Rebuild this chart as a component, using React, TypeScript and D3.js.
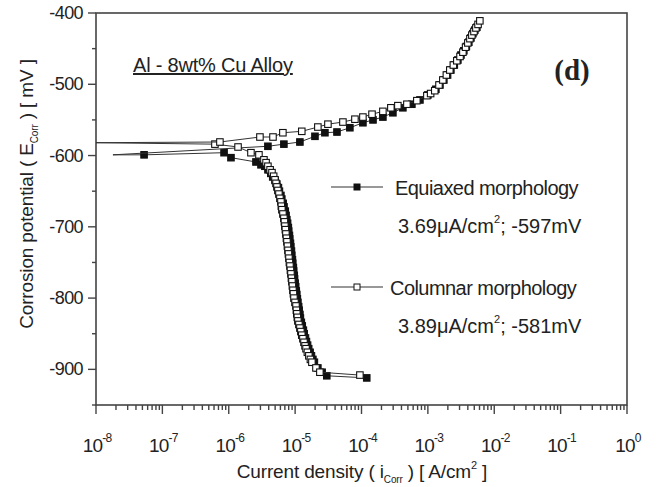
import * as d3 from "d3";
import React, {useEffect, useRef} from "react";

// [current density A/cm2, potential mV]
const equiaxedCathodic = [
    [1.8e-8, -599], [5.3e-8, -599], [8.5e-7, -596], [1.08e-6, -603], [2.57e-6, -609], [3.06e-6, -613],
    [3.5e-6, -615], [3.9e-6, -620], [4.3e-6, -625], [4.6e-6, -630], [5.0e-6, -635], [5.3e-6, -640],
    [5.6e-6, -645], [5.8e-6, -650], [6.1e-6, -656], [6.3e-6, -661], [6.6e-6, -667], [6.8e-6, -672],
    [7.1e-6, -678], [7.3e-6, -684], [7.5e-6, -690], [7.7e-6, -695], [7.9e-6, -701], [8.0e-6, -706],
    [8.2e-6, -712], [8.3e-6, -717], [8.5e-6, -723], [8.6e-6, -728], [8.8e-6, -734], [8.9e-6, -740],
    [9.1e-6, -746], [9.2e-6, -751], [9.4e-6, -757], [9.5e-6, -762], [9.7e-6, -768], [9.8e-6, -773],
    [1.0e-5, -779], [1.02e-5, -784], [1.04e-5, -790], [1.06e-5, -795], [1.08e-5, -801], [1.10e-5, -806],
    [1.13e-5, -812], [1.15e-5, -817], [1.18e-5, -823], [1.20e-5, -828], [1.24e-5, -834], [1.28e-5, -839],
    [1.33e-5, -845], [1.37e-5, -850], [1.43e-5, -856], [1.48e-5, -861], [1.54e-5, -866], [1.60e-5, -871],
    [1.68e-5, -876], [1.76e-5, -881], [1.85e-5, -886], [1.95e-5, -890], [2.2e-5, -898], [2.55e-5, -904],
    [3.0e-5, -909], [1.2e-4, -912]
];

const equiaxedAnodic = [
    [1.8e-8, -599], [3.89e-6, -587], [6.77e-6, -584], [1.18e-5, -581], [1.99e-5, -573], [2.81e-5, -568],
    [4.27e-5, -567], [6.68e-5, -561], [1.05e-4, -554], [1.49e-4, -550], [2.10e-4, -546], [2.97e-4, -540],
    [4.20e-4, -533], [5.74e-4, -528], [7.59e-4, -522], [1.0e-3, -515], [1.32e-3, -507], [1.52e-3, -501],
    [1.74e-3, -494], [1.98e-3, -487], [2.22e-3, -480], [2.5e-3, -473], [2.83e-3, -466], [3.15e-3, -459],
    [3.48e-3, -453], [3.8e-3, -447], [4.14e-3, -441], [4.45e-3, -435], [4.76e-3, -429], [5.1e-3, -424],
    [5.47e-3, -420]
];

const columnarCathodic = [
    [1.0e-8, -582], [6.19e-7, -584], [1.38e-6, -588], [2.16e-6, -596], [2.85e-6, -599], [3.39e-6, -606],
    [3.65e-6, -610], [3.89e-6, -615], [4.2e-6, -620], [4.48e-6, -624], [4.75e-6, -629], [4.97e-6, -634],
    [5.15e-6, -639], [5.32e-6, -644], [5.5e-6, -649], [5.70e-6, -654], [5.9e-6, -660], [6.11e-6, -665],
    [6.2e-6, -671], [6.32e-6, -676], [6.55e-6, -682], [6.77e-6, -688], [6.9e-6, -693], [7.01e-6, -699],
    [7.13e-6, -704], [7.26e-6, -710], [7.4e-6, -716], [7.53e-6, -721], [7.66e-6, -727], [7.80e-6, -733],
    [7.93e-6, -738], [8.07e-6, -744], [8.2e-6, -750], [8.36e-6, -755], [8.5e-6, -761], [8.65e-6, -766],
    [8.8e-6, -772], [8.95e-6, -777], [9.1e-6, -783], [9.27e-6, -789], [9.43e-6, -794], [9.60e-6, -800],
    [9.95e-6, -806], [1.03e-5, -811], [1.045e-5, -817], [1.06e-5, -822], [1.08e-5, -827], [1.10e-5, -832],
    [1.14e-5, -837], [1.18e-5, -842], [1.22e-5, -847], [1.26e-5, -852], [1.31e-5, -857], [1.36e-5, -862],
    [1.41e-5, -867], [1.46e-5, -871], [1.53e-5, -876], [1.61e-5, -881], [1.7e-5, -886], [1.79e-5, -890],
    [2.06e-5, -898], [2.36e-5, -904], [9.46e-5, -908]
];

const columnarAnodic = [
    [1.0e-8, -582], [7.36e-7, -581], [2.95e-6, -574], [4.64e-6, -574], [6.54e-6, -568], [1.26e-5, -566],
    [2.20e-5, -560], [3.12e-5, -556], [5.25e-5, -553], [7.96e-5, -549], [1.05e-4, -546], [1.44e-4, -542],
    [2.10e-4, -538], [2.77e-4, -533], [3.53e-4, -530], [4.83e-4, -528], [6.82e-4, -523], [9.66e-4, -516],
    [1.1e-3, -513], [1.27e-3, -509], [1.47e-3, -501], [1.68e-3, -494], [1.9e-3, -487], [2.14e-3, -480],
    [2.42e-3, -473], [2.73e-3, -467], [3.05e-3, -461], [3.37e-3, -455], [3.7e-3, -448], [4.00e-3, -442],
    [4.3e-3, -436], [4.60e-3, -431], [4.95e-3, -426], [5.29e-3, -421], [5.7e-3, -416], [6.07e-3, -411]
];

const yTicks = [-900, -800, -700, -600, -500, -400];
const yMinorTicks = [-950, -850, -750, -650, -550, -450];
const xTickExponents = [-8, -7, -6, -5, -4, -3, -2, -1, 0];

const legendNames = ["Equiaxed morphology", "Columnar morphology"];
const legendCurrents = ["3.69", "3.89"];
const legendPotentials = [-597, -581];

const width = 657;
const height = 487;
const left = 96, right = 627, top = 13, bottom = 405;
const font = "'Liberation Sans', Arial, sans-serif";

const App = () => {
    const ref = useRef(null);

    useEffect(() => {
        const x = d3.scaleLog().domain([1e-8, 1]).range([left, right]);
        const y = d3.scaleLinear().domain([-950, -400]).range([bottom, top]);

        const svg = d3.select(ref.current);
        svg.selectAll("*").remove();

        svg.append("defs").append("clipPath").attr("id", "plot")
            .append("rect").attr("x", left).attr("y", top).attr("width", right - left).attr("height", bottom - top);

        // frame
        svg.append("rect")
            .attr("x", left).attr("y", top).attr("width", right - left).attr("height", bottom - top)
            .attr("fill", "none").attr("stroke", "#444").attr("stroke-width", 1.6);

        // y ticks
        const yAxis = svg.append("g").attr("stroke", "#444").attr("stroke-width", 1.4);
        yTicks.forEach(t => {
            yAxis.append("line").attr("x1", left - 8).attr("x2", left).attr("y1", y(t)).attr("y2", y(t));
        });
        yMinorTicks.forEach(t => {
            yAxis.append("line").attr("x1", left - 4).attr("x2", left).attr("y1", y(t)).attr("y2", y(t));
        });
        svg.append("g")
            .selectAll("text")
            .data(yTicks)
            .join("text")
            .attr("x", left - 13)
            .attr("y", d => y(d) + 6)
            .attr("text-anchor", "end")
            .attr("font-family", font)
            .attr("font-size", 18)
            .attr("letter-spacing", -0.6)
            .attr("fill", "#222")
            .text(d => d);

        // x ticks, decades and minor ones
        const xAxis = svg.append("g").attr("stroke", "#444").attr("stroke-width", 1.4);
        xTickExponents.forEach(e => {
            xAxis.append("line").attr("x1", x(10 ** e)).attr("x2", x(10 ** e)).attr("y1", bottom).attr("y2", bottom + 9);
            if (e < 0) {
                d3.range(2, 10).forEach(m => {
                    const v = m * 10 ** e;
                    xAxis.append("line").attr("x1", x(v)).attr("x2", x(v)).attr("y1", bottom).attr("y2", bottom + 5);
                });
            }
        });
        const xLabels = svg.append("g")
            .selectAll("text")
            .data(xTickExponents)
            .join("text")
            .attr("x", d => x(10 ** d) + 1)
            .attr("y", 452)
            .attr("text-anchor", "middle")
            .attr("font-family", font)
            .attr("font-size", 19)
            .attr("letter-spacing", -0.8)
            .attr("fill", "#222");
        xLabels.append("tspan").text("10");
        xLabels.append("tspan").attr("dy", -10).attr("font-size", 12).text(d => d === 0 ? "0" : "-" + Math.abs(d));

        // axis titles
        const yTitle = svg.append("text")
            .attr("transform", "translate(33,194) rotate(-90)")
            .attr("text-anchor", "middle")
            .attr("font-family", font)
            .attr("font-size", 19)
            .attr("letter-spacing", -0.15)
            .attr("fill", "#222");
        yTitle.append("tspan").text("Corrosion potential ( E");
        yTitle.append("tspan").attr("dy", 5).attr("font-size", 10).text("Corr");
        yTitle.append("tspan").attr("dy", -5).text(" )  [ mV ]");

        const xTitle = svg.append("text")
            .attr("x", 362)
            .attr("y", 478)
            .attr("text-anchor", "middle")
            .attr("font-family", font)
            .attr("font-size", 19)
            .attr("letter-spacing", -0.15)
            .attr("fill", "#222");
        xTitle.append("tspan").text("Current density ( i");
        xTitle.append("tspan").attr("dy", 5).attr("font-size", 10).text("Corr");
        xTitle.append("tspan").attr("dy", -5).text(" )  [ A/cm");
        xTitle.append("tspan").attr("dy", -9).attr("font-size", 11).text("2");
        xTitle.append("tspan").attr("dy", 9).text(" ]");

        // curves
        const line = d3.line().x(d => x(d[0])).y(d => y(d[1]));
        const plot = svg.append("g").attr("clip-path", "url(#plot)");

        const drawBranch = (pts, filled) => {
            plot.append("path")
                .attr("d", line(pts))
                .attr("fill", "none")
                .attr("stroke", "#333")
                .attr("stroke-width", 1);
            plot.append("g")
                .selectAll("rect")
                .data(pts.slice(1))
                .join("rect")
                .attr("x", d => x(d[0]) - 3.25)
                .attr("y", d => y(d[1]) - 3.25)
                .attr("width", 6.5)
                .attr("height", 6.5)
                .attr("fill", filled ? "#111" : "#fff")
                .attr("stroke", "#111")
                .attr("stroke-width", 1.1);
        };
        drawBranch(equiaxedCathodic, true);
        drawBranch(equiaxedAnodic, true);
        drawBranch(columnarCathodic, false);
        drawBranch(columnarAnodic, false);

        // annotation
        svg.append("text")
            .attr("x", 133)
            .attr("y", 72)
            .attr("font-family", font)
            .attr("font-size", 20)
            .attr("letter-spacing", -0.2)
            .attr("text-decoration", "underline")
            .attr("fill", "#222")
            .text("Al - 8wt% Cu Alloy");

        svg.append("text")
            .attr("x", 572)
            .attr("y", 80)
            .attr("text-anchor", "middle")
            .attr("font-family", "'Liberation Serif', 'Times New Roman', serif")
            .attr("font-weight", "bold")
            .attr("font-size", 29)
            .attr("fill", "#222")
            .text("(d)");

        // legend
        const legend = svg.append("g");
        legendNames.forEach((name, i) => {
            const ly = i === 0 ? 187 : 287;
            legend.append("line").attr("x1", 331).attr("x2", 383).attr("y1", ly).attr("y2", ly)
                .attr("stroke", "#333").attr("stroke-width", 1.2);
            legend.append("rect").attr("x", 354).attr("y", ly - 3).attr("width", 6).attr("height", 6)
                .attr("fill", i === 0 ? "#111" : "#fff").attr("stroke", "#111").attr("stroke-width", 1);
            legend.append("text")
                .attr("x", i === 0 ? 395 : 390).attr("y", ly + 8)
                .attr("font-family", font).attr("font-size", 20).attr("letter-spacing", -0.55)
                .attr("fill", "#222")
                .text(name);
            const val = legend.append("text")
                .attr("x", 398).attr("y", ly + 46)
                .attr("font-family", font).attr("font-size", 20).attr("letter-spacing", 0)
                .attr("fill", "#222");
            val.append("tspan").text(legendCurrents[i] + "\u03bcA/cm");
            val.append("tspan").attr("dy", -10).attr("font-size", 11).text("2");
            val.append("tspan").attr("dy", 10).text("; " + legendPotentials[i] + "mV");
        });
    }, []);

    return (
        <svg ref={ref} width={width} height={height}
             style={{position: "absolute", left: 0, top: 0, background: "#fff"}}/>
    );
};

export default App;
